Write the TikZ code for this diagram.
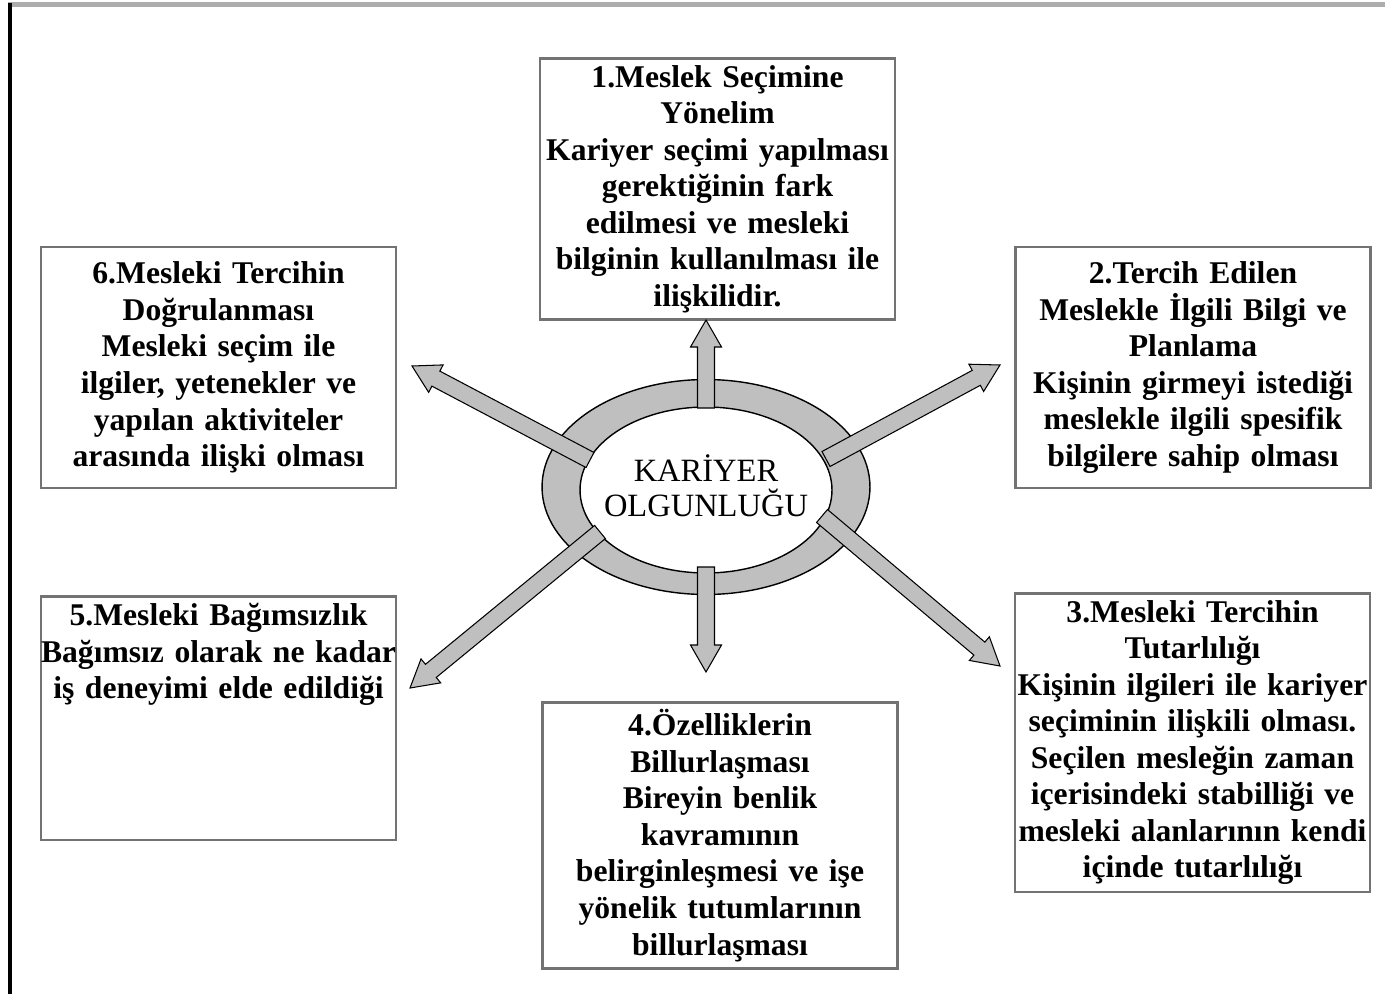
\documentclass[tikz,border=0pt]{standalone}
\usepackage{fontspec}
\setmainfont{Liberation Serif}
\usetikzlibrary{shapes.geometric,calc}

% block arrow from #1 (flat end) to #2 (tip)
\newcommand{\blokok}[2]{%
  \coordinate (oh) at ($(#2)!0.54cm!(#1)$);
  \filldraw[okstil] ($(#1)!0.17cm!90:(#2)$) -- ($(oh)!0.17cm!90:(#2)$) -- ($(oh)!0.31cm!90:(#2)$)
    -- (#2) -- ($(oh)!0.31cm!-90:(#2)$) -- ($(oh)!0.17cm!-90:(#2)$) -- ($(#1)!0.17cm!-90:(#2)$) -- cycle;}

\begin{document}
\begin{tikzpicture}[x=0.02cm, y=-0.02cm,
  kutu/.style={draw=black!55, line width=1.6pt, fill=white, text width=7.1cm, minimum width=7.1cm,
    inner xsep=0pt, inner ysep=4pt, align=center, font=\fontsize{18}{20.8}\selectfont\bfseries},
  okstil/.style={fill=gray!50, draw=black, line width=0.6pt, line join=miter},
  halkastil/.style={ellipse, draw=black, line width=0.8pt, inner sep=0pt}]
  \useasboundingbox (0,0) rectangle (1385,994);

  %--- page frame ---
  \draw[black!32, line width=2.8pt] (8,4.5) -- (1385,4.5);
  \draw[black, line width=2.3pt] (10,3) -- (10,994);

  %--- ring in the middle ---
  \node[halkastil, fill=gray!50, minimum width=6.56cm, minimum height=4.3cm] (halka) at (706,487) {};
  \node[halkastil, fill=white, minimum width=5.04cm, minimum height=3.32cm] (merkez) at (706,490) {};
  \node[align=center, inner sep=0pt, font=\fontsize{18.5}{19.9}\selectfont] (merkezyazi) at (706,486) {KARİYER\\OLGUNLUĞU};

  %--- stages ---
  \node[kutu, minimum height=5.16cm] (yonelim) at (717.5,189) {1.Meslek Seçimine\\Yönelim\\Kariyer seçimi yapılması\\gerektiğinin fark\\edilmesi ve mesleki\\bilginin kullanılması ile\\ilişkilidir.};
  \node[kutu, minimum height=4.82cm] (planlama) at (1193,367.5) {2.Tercih Edilen\\Meslekle İlgili Bilgi ve\\Planlama\\Kişinin girmeyi istediği\\meslekle ilgili spesifik\\bilgilere sahip olması};
  \node[kutu, minimum height=5.9cm] (tutarlilik) at (1192.5,742.5) {3.Mesleki Tercihin\\Tutarlılığı\\Kişinin ilgileri ile kariyer\\seçiminin ilişkili olması.\\Seçilen mesleğin zaman\\içerisindeki stabilliği ve\\mesleki alanlarının kendi\\içinde tutarlılığı};
  \node[kutu, minimum height=5.3cm] (billur) at (720,835.5) {4.Özelliklerin\\Billurlaşması\\Bireyin benlik\\kavramının\\belirginleşmesi ve işe\\yönelik tutumlarının\\billurlaşması};
  \node[kutu, anchor=north, text depth=118pt] (bagimsiz) at (218.5,595) {5.Mesleki Bağımsızlık\\Bağımsız olarak ne kadar\\iş deneyimi elde edildiği};
  \node[kutu, minimum height=4.82cm] (dogrulama) at (218.5,367.5) {6.Mesleki Tercihin\\Doğrulanması\\Mesleki seçim ile\\ilgiler, yetenekler ve\\yapılan aktiviteler\\arasında ilişki olması};

  %--- arrows out of the ring ---
  \coordinate (kU) at (706,408);  \coordinate (uU) at (706,320);
  \coordinate (kD) at (706,567);  \coordinate (uD) at (706,672);
  \coordinate (kUL) at (590,460); \coordinate (uUL) at (412,366);
  \coordinate (kUR) at (826,459); \coordinate (uUR) at (1000,365);
  \coordinate (kLL) at (600,532); \coordinate (uLL) at (410,688);
  \coordinate (kLR) at (822,516); \coordinate (uLR) at (1000,666);
  \blokok{kU}{uU}
  \blokok{kD}{uD}
  \blokok{kUL}{uUL}
  \blokok{kUR}{uUR}
  \blokok{kLL}{uLL}
  \blokok{kLR}{uLR}
\end{tikzpicture}
\end{document}
